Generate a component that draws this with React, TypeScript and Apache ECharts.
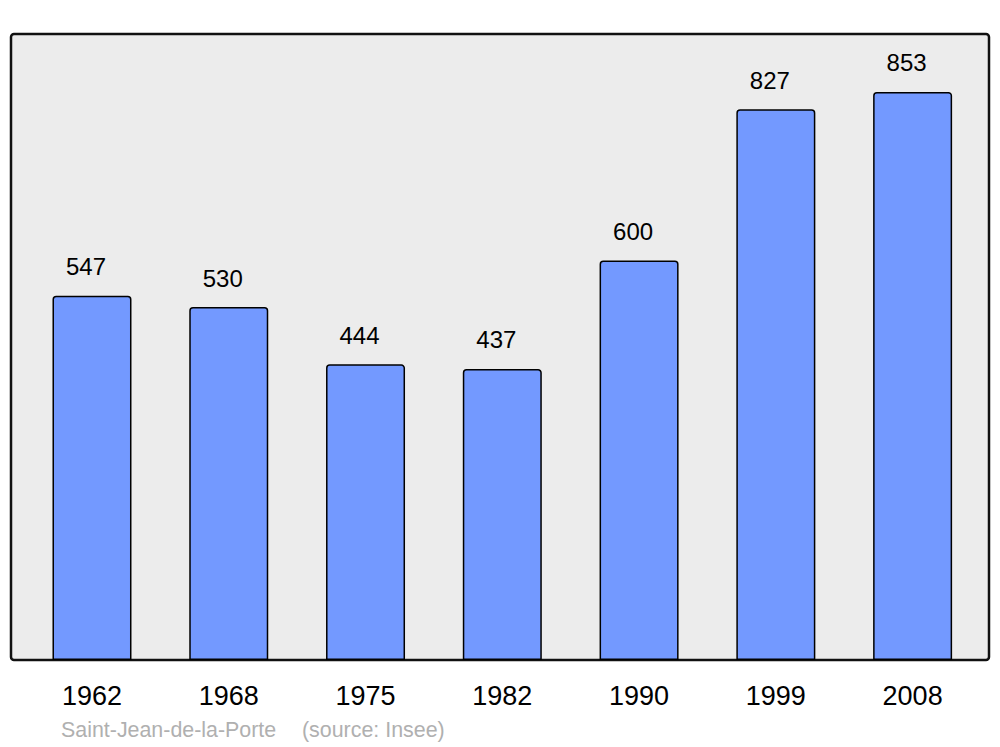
import React, { useEffect, useRef } from "react";
import * as echarts from "echarts";

const years = ["1962", "1968", "1975", "1982", "1990", "1999", "2008"];
const population = [547, 530, 444, 437, 600, 827, 853];
const footerName = "Saint-Jean-de-la-Porte";
const footerSource = "(source: Insee)";

export default function App() {
  const ref = useRef<HTMLDivElement>(null);
  useEffect(() => {
    if (!ref.current) return;
    const chart = echarts.init(ref.current, null, { renderer: "svg" });
    chart.setOption({
      animation: false,
      backgroundColor: "#ffffff",
      textStyle: { fontFamily: "Liberation Sans" },
      grid: { left: 23.6, right: 19, top: 34, bottom: 87, containLabel: false },
      xAxis: {
        type: "category",
        data: years,
        axisLine: { show: false },
        axisTick: { show: false },
        axisLabel: { color: "#000", fontSize: 27, margin: 22, fontFamily: "Liberation Sans" },
      },
      yAxis: {
        type: "value",
        min: 0,
        max: 940,
        show: false,
        splitLine: { show: false },
      },
      graphic: [
        {
          type: "rect",
          z: -100,
          zlevel: 0,
          silent: true,
          shape: { x: 11, y: 34, width: 978, height: 626, r: 3 },
          style: { fill: "#ececec", stroke: "#111111", lineWidth: 2.5 },
        },
        {
          type: "text",
          x: 61,
          y: 730,
          style: {
            text: footerName,
            fill: "#b0b0b0",
            font: '21.4px "Liberation Sans"',
            textVerticalAlign: "middle",
          },
        },
        {
          type: "text",
          x: 302,
          y: 730,
          style: {
            text: footerSource,
            fill: "#b0b0b0",
            font: '21.4px "Liberation Sans"',
            textVerticalAlign: "middle",
          },
        },
      ],
      series: [
        {
          type: "bar",
          data: population,
          barWidth: 79,
          z: 5,
          itemStyle: {
            color: "#7399ff",
            borderColor: "#000000",
            borderWidth: 1.5,
            borderRadius: [3, 3, 0, 0],
          },
          label: {
            show: true,
            position: "top",
            distance: 17,
            offset: [-6, 0],
            color: "#000",
            fontSize: 24,
            fontFamily: "Liberation Sans",
          },
        },
      ],
    });
    return () => chart.dispose();
  }, []);
  return (
    <div
      ref={ref}
      style={{ position: "fixed", left: 0, top: 0, width: 1000, height: 747 }}
    />
  );
}
